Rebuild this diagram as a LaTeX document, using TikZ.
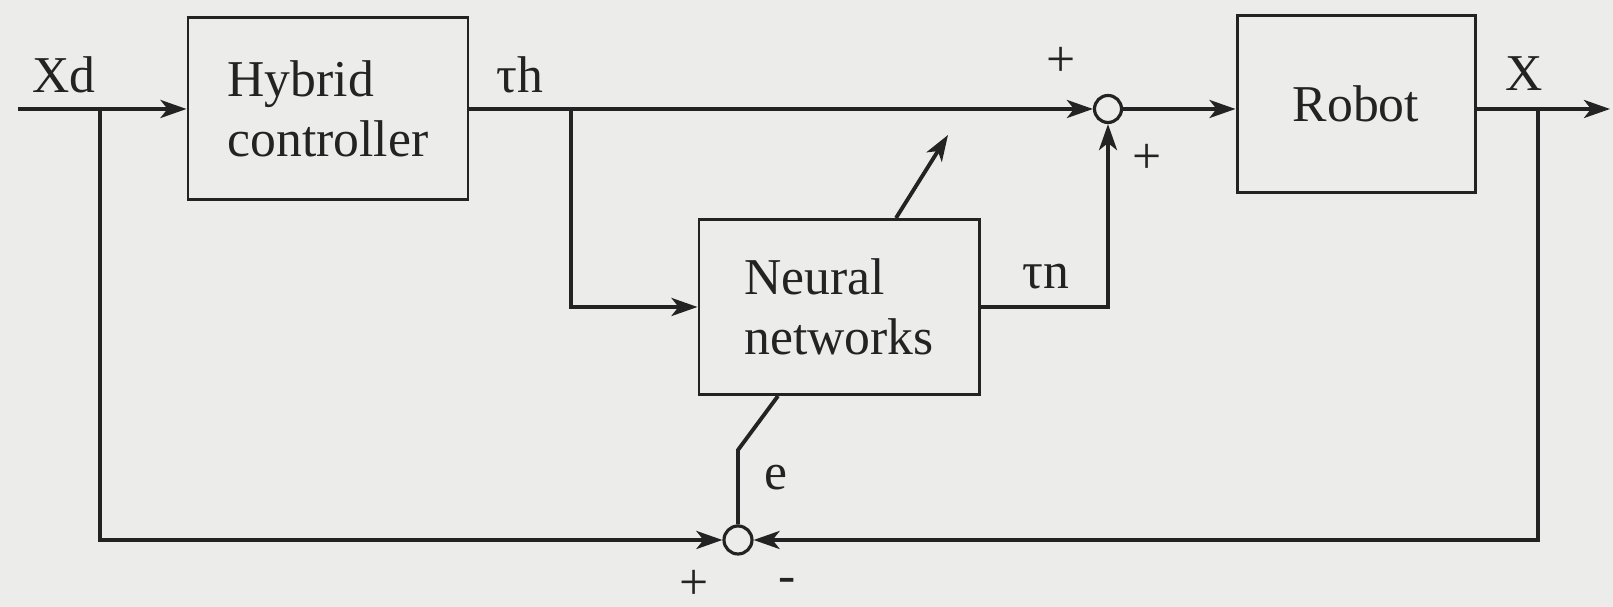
\documentclass[tikz,border=0pt]{standalone}
\usepackage{fontspec}
\setmainfont{Liberation Serif}
\newfontfamily\diagserif{Liberation Serif}
\usetikzlibrary{arrows.meta}
\definecolor{bg}{RGB}{236,236,234}
\definecolor{ink}{RGB}{35,35,35}
\begin{document}
\begin{tikzpicture}[
  font=\diagserif\fontsize{14.7}{17}\selectfont,
  line width=1.1pt, draw=ink, text=ink,
  blk/.style={draw=ink, line width=0.85pt, minimum width=2.8cm, minimum height=1.82cm, inner sep=0pt, align=left},
  sumc/.style={circle, draw=ink, line width=0.9pt, minimum size=0.27cm, inner sep=0pt},
  arr/.style={-{Stealth[length=0.26cm,width=0.18cm,inset=0.07cm]}},
  lbl/.style={inner sep=0pt}
]
\fill[bg] (0,0) rectangle (16.13,6.07);
\useasboundingbox (0,0) rectangle (16.13,6.07);

% blocks
\node[blk] (hc) at (3.28,4.98) {Hybrid\\controller};
\node[blk, minimum height=1.75cm] (nn) at (8.39,3.0) {Neural\\networks};
\node[blk, minimum width=2.38cm, minimum height=1.77cm, align=center] (rb) at (13.56,5.03) {Robot};
\node[sumc] (c1) at (11.08,4.98) {};
\node[sumc, minimum size=0.28cm] (c2) at (7.38,0.67) {};

% coordinates
\coordinate (in) at (0.18,4.98);
\coordinate (b1) at (1.00,4.98);
\coordinate (b2) at (5.71,4.98);
\coordinate (b3) at (15.38,4.98);
\coordinate (out) at (16.10,4.98);
\coordinate (nnout) at (11.08,3.0);
\coordinate (adjend) at (9.48,4.72);
\coordinate (ebend) at (7.38,1.57);

% labels
\node[lbl] (xd) at (0.64,5.32) {Xd};
\node[lbl] (th) at (5.20,5.32) {τh};
\node[lbl] (tn) at (10.46,3.30) {τn};
\node[lbl] (xx) at (15.24,5.33) {X};
\node[lbl] (ee) at (7.76,1.29) {e};
\node[lbl] (p1) at (10.61,5.45) {+};
\node[lbl] (p2) at (11.47,4.48) {+};
\node[lbl] (p3) at (6.94,0.22) {+};
\node[lbl] (m1) at (7.87,0.22) {-};

% connectors
\draw[arr] (in) -- (hc.west |- in);
\draw[arr] (hc.east |- in) -- (c1.west);
\draw[arr] (c1.east) -- (c1.east -| rb.west);
\draw[arr] (rb.east |- out) -- (out);
\draw[arr] (b2) |- (nn.west);
\draw[arr] (nn.east |- nnout) -- (nnout) -- (c1.south);
\draw[arr] (b1) |- (c2.west);
\draw[arr] (b3) |- (c2.east);
\draw[arr] ([xshift=0.57cm]nn.north) -- (adjend);
\draw ([xshift=-0.61cm]nn.south) -- (ebend) -- (c2.north);
\end{tikzpicture}
\end{document}
